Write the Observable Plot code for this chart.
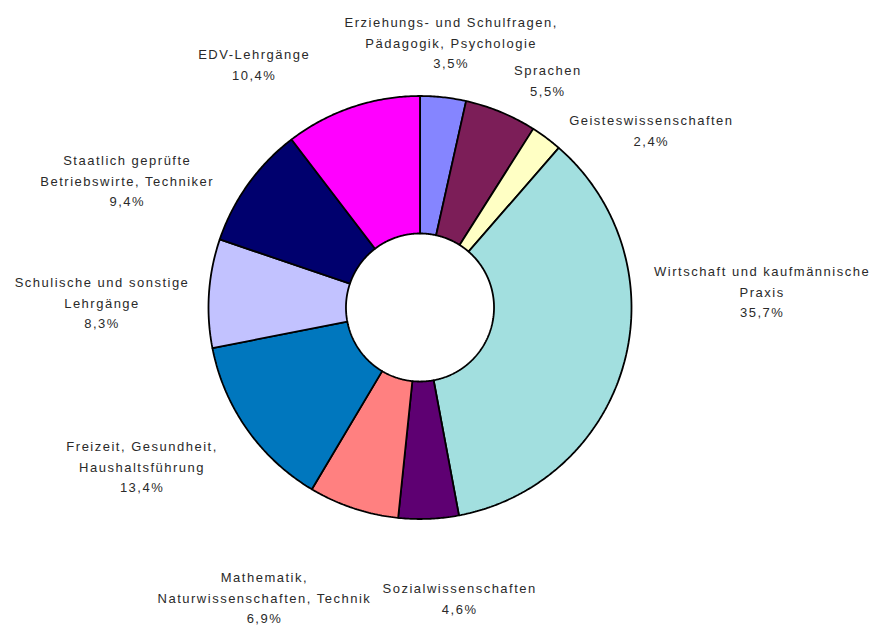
<!DOCTYPE html>
<html>
<head>
<meta charset="utf-8">
<script src="https://cdn.jsdelivr.net/npm/d3@7"></script>
<script src="https://cdn.jsdelivr.net/npm/@observablehq/plot@0.6"></script>
<style>
  html, body { margin: 0; padding: 0; background: #fff; }
</style>
</head>
<body>
<div id="chart"></div>
<script>
// ---- data ----
const categories = [
  "Erziehungs- und Schulfragen,\nPädagogik, Psychologie",
  "Sprachen",
  "Geisteswissenschaften",
  "Wirtschaft und kaufmännische\nPraxis",
  "Sozialwissenschaften",
  "Mathematik,\nNaturwissenschaften, Technik",
  "Freizeit, Gesundheit,\nHaushaltsführung",
  "Schulische und sonstige\nLehrgänge",
  "Staatlich geprüfte\nBetriebswirte, Techniker",
  "EDV-Lehrgänge"
];
const values = [3.5, 5.5, 2.4, 35.7, 4.6, 6.9, 13.4, 8.3, 9.4, 10.4];
const valueLabels = ["3,5%", "5,5%", "2,4%", "35,7%", "4,6%", "6,9%", "13,4%", "8,3%", "9,4%", "10,4%"];

// ---- styles / layout ----
const colors = ["#8585FF", "#7C1E58", "#FFFFC4", "#A2DFDF", "#5E0072", "#FF8080", "#0077BE", "#C2C2FF", "#00006E", "#FF00FF"];
const innerRatio = 0.35;
// label offsets (px) from the outer edge at each slice's mid-angle
const labelOffsets = [[8, -56], [47, -33], [105, -9], [138, -73], [31, 78], [-89, 88], [-105, 36], [-107, 8], [-121, -5], [-98, -44]];

// ---- build ring polygons from data ----
const total = d3.sum(values);
let cum = 0;
const slices = values.map((v, i) => {
  const a0 = cum / total * 2 * Math.PI;
  cum += v;
  const a1 = cum / total * 2 * Math.PI;
  return {name: categories[i], i, a0, a1, mid: (a0 + a1) / 2};
});
const pts = [];
for (const s of slices) {
  const n = Math.max(2, Math.ceil((s.a1 - s.a0) / (Math.PI / 360)));
  const ring = [];
  for (let k = 0; k <= n; k++) {
    const a = s.a0 + (s.a1 - s.a0) * k / n;
    ring.push({x: Math.sin(a), y: Math.cos(a)});
  }
  for (let k = n; k >= 0; k--) {
    const a = s.a0 + (s.a1 - s.a0) * k / n;
    ring.push({x: innerRatio * Math.sin(a), y: innerRatio * Math.cos(a)});
  }
  ring.push(ring[0]);
  for (const p of ring) pts.push({...p, name: s.name});
}

const textMarks = slices.map((s, i) => Plot.text([s], {
  x: d => Math.sin(d.mid),
  y: d => Math.cos(d.mid),
  text: d => categories[d.i] + "\n" + valueLabels[d.i],
  dx: labelOffsets[i][0],
  dy: labelOffsets[i][1],
  textAnchor: "middle",
  lineAnchor: "middle",
  lineHeight: 1.58,
  fontSize: 13,
  fill: "#2a2a2a"
}));

const chart = Plot.plot({
  width: 879,
  height: 626,
  marginLeft: 208,
  marginRight: 248,
  marginTop: 95.5,
  marginBottom: 107.5,
  x: {domain: [-1, 1], axis: null},
  y: {domain: [-1, 1], axis: null},
  color: {domain: categories, range: colors},
  style: {fontFamily: "'Liberation Sans', Arial, sans-serif", letterSpacing: "1.5px", background: "#fff"},
  marks: [
    Plot.line(pts, {x: "x", y: "y", z: "name", fill: "name", stroke: "#000", strokeWidth: 1.8, curve: "linear", strokeLinejoin: "miter"}),
    ...textMarks
  ]
});
document.getElementById("chart").appendChild(chart);
</script>
</body>
</html>
